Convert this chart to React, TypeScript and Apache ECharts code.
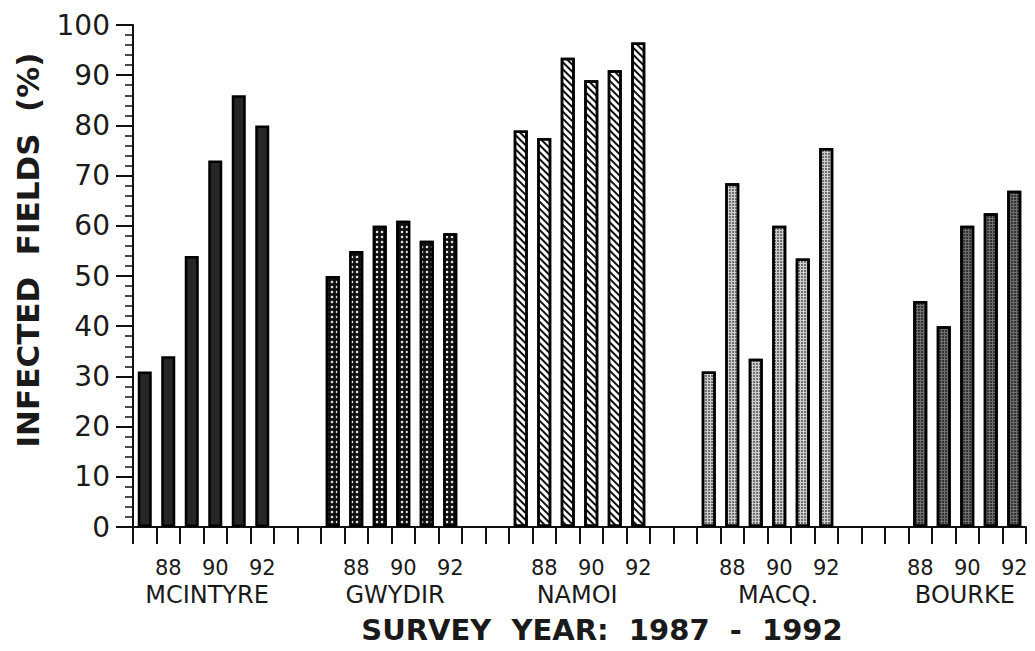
import React, { useEffect, useRef } from "react";
import * as echarts from "echarts";

// ---- data ----
const regions = ["MCINTYRE", "GWYDIR", "NAMOI", "MACQ.", "BOURKE"];
const years = ["87", "88", "89", "90", "91", "92"];
const yearTickLabels = ["88", "90", "92"];
const mcintyre = [31, 34, 54, 73, 86, 80];
const gwydir = [50, 55, 60, 61, 57, 58.5];
const namoi = [79, 77.5, 93.5, 89, 91, 96.5];
const macq = [31, 68.5, 33.5, 60, 53.5, 75.5];
const bourke = [null, 45, 40, 60, 62.5, 67];
const regionValues = [mcintyre, gwydir, namoi, macq, bourke];
const gapSlots = 2;
// region name label positions on the slot scale (0..38)
const regionLabelPos = [3.15, 11.15, 18.9, 27.45, 35.4];
const yTicks = [0, 100, 10];

// ---- styles per region ----
const FONT = "DejaVu Sans";
const regionStyles: any[] = [
  { color: "#262626" },
  {
    color: "#111111",
    decal: {
      symbol: "diamond",
      color: "#ffffff",
      symbolSize: 0.75,
      dashArrayX: [4, 1],
      dashArrayY: [4, 1],
    },
  },
  {
    color: "#ffffff",
    decal: {
      symbol: "rect",
      color: "#111111",
      symbolSize: 1,
      dashArrayX: [1, 0],
      dashArrayY: [2, 3],
      rotation: Math.PI / 4,
    },
  },
  {
    color: "#cfcfcf",
    decal: {
      symbol: "circle",
      color: "#3a3a3a",
      symbolSize: 0.8,
      dashArrayX: [2, 1],
      dashArrayY: [2, 1],
    },
  },
  {
    color: "#6e6e6e",
    decal: {
      symbol: "circle",
      color: "#111111",
      symbolSize: 0.8,
      dashArrayX: [2, 1],
      dashArrayY: [2, 1],
    },
  },
];

type Slot = { cat: string; year: string; value: number | null; region: number };
const slots: Slot[] = [];
regions.forEach((r, i) => {
  years.forEach((y, j) => {
    slots.push({ cat: `${r}-${y}`, year: y, value: regionValues[i][j], region: i });
  });
  if (i < regions.length - 1) {
    for (let g = 0; g < gapSlots; g++) slots.push({ cat: `gap-${i}-${g}`, year: "", value: null, region: -1 });
  }
});

export default function App() {
  const ref = useRef<HTMLDivElement>(null);
  useEffect(() => {
    if (!ref.current) return;
    const chart = echarts.init(ref.current, undefined, { renderer: "svg" });
    const option: any = {
      animation: false,
      backgroundColor: "#ffffff",
      grid: { left: 133, right: 9, top: 25, bottom: 124, containLabel: false },
      xAxis: [
        {
          type: "category",
          data: slots.map((s) => s.cat),
          position: "bottom",
          axisLine: { show: true, lineStyle: { color: "#111", width: 2 } },
          axisTick: { show: true, interval: 0, length: 17, lineStyle: { color: "#111", width: 2 } },
          axisLabel: {
            interval: 0,
            margin: 30,
            color: "#1a1a1a",
            fontFamily: FONT,
            fontSize: 21,
            formatter: (_v: string, idx: number) => {
              const y = slots[idx].year;
              return yearTickLabels.includes(y) ? y : "";
            },
          },
          splitLine: { show: false },
        },
        {
          type: "value",
          min: 0,
          max: slots.length,
          position: "bottom",
          axisLine: { show: false },
          axisTick: { show: false },
          splitLine: { show: false },
          axisLabel: {
            customValues: regionLabelPos,
            margin: 56,
            color: "#1a1a1a",
            fontFamily: FONT,
            fontSize: 24,
            formatter: (v: number) => {
              const k = regionLabelPos.indexOf(v);
              return k >= 0 ? regions[k] : "";
            },
          },
        },
      ],
      yAxis: {
        type: "value",
        min: yTicks[0],
        max: yTicks[1],
        interval: yTicks[2],
        axisLine: { show: true, lineStyle: { color: "#111", width: 2 } },
        axisTick: { show: true, length: 17, lineStyle: { color: "#111", width: 2 } },
        minorTick: { show: true, splitNumber: 5, length: 8, lineStyle: { color: "#111", width: 1.5 } },
        splitLine: { show: false },
        minorSplitLine: { show: false },
        axisLabel: { margin: 23, color: "#1a1a1a", fontFamily: FONT, fontSize: 28 },
      },
      series: [
        {
          type: "bar",
          xAxisIndex: 0,
          barWidth: 14,
          data: slots.map((s) =>
            s.value == null
              ? "-"
              : {
                  value: s.value,
                  itemStyle: { ...regionStyles[s.region], borderColor: "#000", borderWidth: 2.5 },
                }
          ),
        },
      ],
      graphic: [
        {
          type: "text",
          x: 28,
          y: 250,
          rotation: Math.PI / 2,
          style: {
            text: "INFECTED  FIELDS  (%)",
            font: `bold 31px '${FONT}'`,
            fill: "#1a1a1a",
            textAlign: "center",
            textVerticalAlign: "middle",
          },
        },
        {
          type: "text",
          x: 602,
          y: 630,
          style: {
            text: "SURVEY  YEAR:  1987  -  1992",
            font: `bold 29px '${FONT}'`,
            fill: "#1a1a1a",
            textAlign: "center",
            textVerticalAlign: "middle",
          },
        },
      ],
    };
    chart.setOption(option);
    return () => chart.dispose();
  }, []);
  return (
    <div
      ref={ref}
      style={{ position: "fixed", left: 0, top: 0, width: 1035, height: 651 }}
    />
  );
}
